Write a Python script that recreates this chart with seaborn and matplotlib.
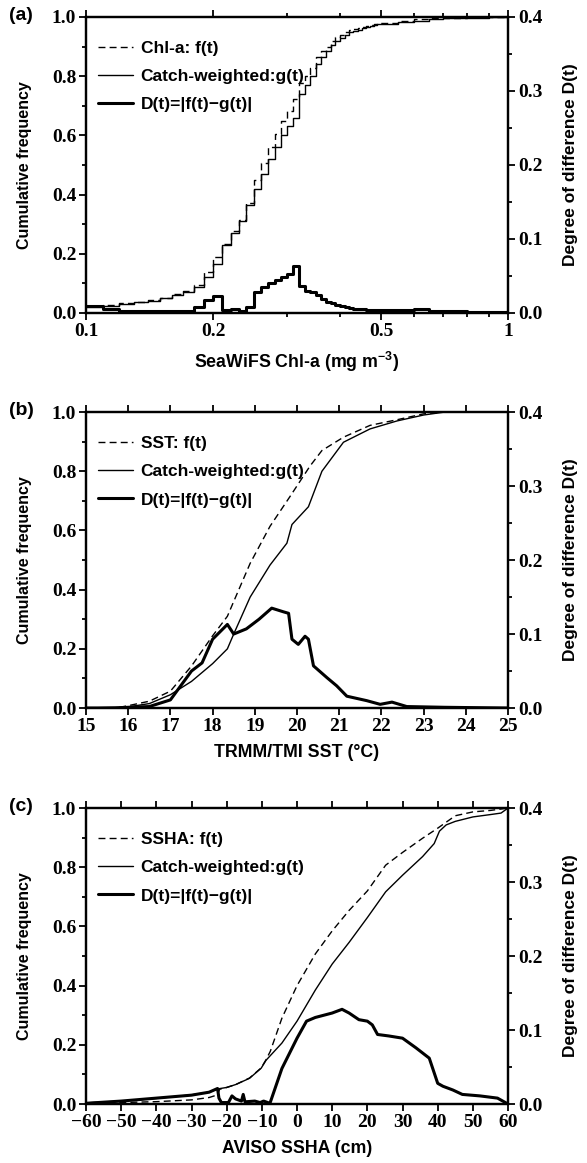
import matplotlib
matplotlib.use('Agg')
import matplotlib.pyplot as plt
import seaborn as sns
from matplotlib.ticker import NullFormatter, MultipleLocator

# ---- panel (a): SeaWiFS Chl-a (step cumulative curves) ----
chl_x = [0.10, 0.11, 0.12, 0.13, 0.14, 0.15, 0.16, 0.17, 0.18, 0.19,
         0.20, 0.21, 0.22, 0.23, 0.24, 0.25, 0.26, 0.27, 0.28, 0.29,
         0.30, 0.31, 0.32, 0.33, 0.34, 0.35, 0.36, 0.37, 0.38, 0.39,
         0.40, 0.41, 0.42, 0.43, 0.44, 0.45, 0.46, 0.47, 0.48, 0.49,
         0.50, 0.55, 0.60, 0.65, 0.70, 0.80, 0.90, 1.00]
chl_f = [0.022, 0.027, 0.032, 0.038, 0.045, 0.052, 0.063, 0.075, 0.096, 0.137,
         0.188, 0.234, 0.276, 0.313, 0.373, 0.448, 0.505, 0.560, 0.605, 0.648,
         0.682, 0.723, 0.777, 0.800, 0.829, 0.864, 0.884, 0.900, 0.918, 0.931,
         0.940, 0.948, 0.955, 0.958, 0.962, 0.967, 0.970, 0.973, 0.976, 0.979,
         0.981, 0.987, 0.993, 0.995, 0.997, 0.999, 1.000, 1.000]
chl_g = [0.020, 0.025, 0.030, 0.036, 0.042, 0.050, 0.060, 0.072, 0.088, 0.120,
         0.165, 0.230, 0.270, 0.310, 0.365, 0.420, 0.470, 0.520, 0.560, 0.600,
         0.630, 0.660, 0.740, 0.770, 0.800, 0.840, 0.865, 0.885, 0.905, 0.920,
         0.930, 0.940, 0.948, 0.952, 0.957, 0.962, 0.966, 0.969, 0.972, 0.975,
         0.977, 0.983, 0.988, 0.992, 0.995, 0.998, 0.999, 1.000]
chl_d = [0.009, 0.005, 0.002, 0.002, 0.003, 0.002, 0.003, 0.003, 0.008, 0.017,
         0.023, 0.004, 0.006, 0.003, 0.008, 0.028, 0.035, 0.040, 0.045, 0.048,
         0.052, 0.063, 0.037, 0.030, 0.029, 0.024, 0.019, 0.015, 0.013, 0.011,
         0.010, 0.008, 0.007, 0.006, 0.005, 0.005, 0.004, 0.004, 0.004, 0.004,
         0.004, 0.004, 0.005, 0.003, 0.002, 0.001, 0.001, 0.000]

# ---- panel (b): TRMM/TMI SST ----
sst_fx = [15.0, 15.7, 16.0, 16.5, 17.0, 17.5, 18.0, 18.35, 18.5, 18.89, 19.36,
          19.84, 20.31, 20.59, 21.1, 21.73, 22.37, 23.0, 23.5, 25.0]
sst_f = [0.0, 0.0, 0.008, 0.023, 0.057, 0.142, 0.244, 0.31, 0.36, 0.489, 0.614,
         0.716, 0.818, 0.87, 0.915, 0.955, 0.974, 0.994, 1.0, 1.0]
sst_gx = [15.0, 16.0, 16.5, 17.0, 17.5, 18.0, 18.35, 18.5, 18.89, 19.36, 19.76,
          19.88, 20.27, 20.59, 21.1, 21.73, 22.37, 23.0, 23.5, 25.0]
sst_g = [0.0, 0.004, 0.015, 0.045, 0.09, 0.15, 0.20, 0.25, 0.375, 0.483, 0.557,
         0.62, 0.68, 0.80, 0.898, 0.943, 0.97, 0.99, 1.0, 1.0]
sst_dx = [15.0, 15.7, 16.0, 16.5, 17.0, 17.5, 17.75, 18.0, 18.35, 18.5, 18.8,
          19.1, 19.4, 19.68, 19.8, 19.88, 20.03, 20.19, 20.27, 20.39, 20.71,
          20.94, 21.18, 21.65, 21.97, 22.25, 22.6, 23.5, 25.0]
sst_d = [0.0, 0.0, 0.001, 0.002, 0.011, 0.05, 0.061, 0.093, 0.113, 0.10, 0.107,
         0.12, 0.135, 0.13, 0.128, 0.093, 0.086, 0.097, 0.093, 0.057, 0.041,
         0.03, 0.016, 0.010, 0.005, 0.008, 0.002, 0.001, 0.0]

# ---- panel (c): AVISO SSHA ----
ssha_fx = [-60, -50, -40, -30, -25, -22.6, -22, -20, -17.4, -13.5, -10.2, -8.8,
           -7.6, -4.3, 0, 5.2, 10, 14.8, 20, 25.2, 30, 35.7, 40, 45, 50, 55, 60]
ssha_f = [0.002, 0.005, 0.008, 0.014, 0.022, 0.031, 0.050, 0.056, 0.066, 0.088,
          0.122, 0.15, 0.178, 0.29, 0.40, 0.507, 0.585, 0.654, 0.72, 0.807,
          0.85, 0.898, 0.932, 0.974, 0.987, 0.992, 1.0]
ssha_gx = [-60, -50, -40, -30, -25, -22.6, -20, -17.4, -13.5, -10.2, -8.8, -4.3,
           0, 5.2, 10, 14.8, 20, 25.2, 30, 35.7, 39, 40.5, 42.4, 45, 50, 55, 58, 60]
ssha_g = [0.004, 0.010, 0.019, 0.031, 0.040, 0.051, 0.056, 0.066, 0.087, 0.121,
          0.148, 0.206, 0.28, 0.385, 0.473, 0.546, 0.63, 0.717, 0.773, 0.836,
          0.88, 0.922, 0.943, 0.955, 0.97, 0.978, 0.983, 1.0]
ssha_dx = [-60, -50, -40, -30, -25, -22.6, -22.2, -21.5, -19.5, -18.5, -17.5,
           -15.8, -15.3, -14.8, -12, -10.5, -9.5, -7.7, -4.3, 0, 2.7, 5.2, 10,
           12.8, 14.8, 17.6, 20, 21.4, 22.9, 26.1, 30, 33.8, 37.6, 40, 41.5,
           44.3, 47, 52, 57, 60]
ssha_d = [0.001, 0.004, 0.008, 0.012, 0.016, 0.021, 0.008, 0.002, 0.002, 0.011,
          0.007, 0.004, 0.013, 0.003, 0.004, 0.002, 0.004, 0.001, 0.048, 0.089,
          0.112, 0.117, 0.123, 0.128, 0.123, 0.114, 0.112, 0.107, 0.094, 0.092,
          0.089, 0.076, 0.062, 0.028, 0.024, 0.019, 0.013, 0.011, 0.008, 0.0]

sns.set_style('ticks', rc={'axes.edgecolor': 'black', 'xtick.color': 'black',
                           'ytick.color': 'black', 'text.color': 'black',
                           'axes.labelcolor': 'black'})
plt.rcParams['font.family'] = ['Liberation Sans', 'DejaVu Sans']
plt.rcParams['font.weight'] = 'bold'
plt.rcParams['axes.labelweight'] = 'bold'
plt.rcParams['mathtext.fontset'] = 'custom'
plt.rcParams['mathtext.rm'] = 'Liberation Sans:bold'
plt.rcParams['mathtext.bf'] = 'Liberation Sans:bold'
plt.rcParams['mathtext.default'] = 'rm'

fig = plt.figure(figsize=(5.87, 11.63), dpi=100)
L, W, H = 0.1465, 0.719, 0.2545
bottoms = [0.7309, 0.3912, 0.0507]

TICK_FONT = dict(family='Liberation Serif', weight='bold', size=14)


def panel(bottom, fx, fy, gx, gy, dx, dy, name, xlabel, tag, steps=False):
    ax = fig.add_axes([L, bottom, W, H])
    ax2 = ax.twinx()
    ds = 'steps-post' if steps else 'default'
    sns.lineplot(x=fx, y=fy, ax=ax, color='black', lw=1.0, linestyle=(0, (5, 3)),
                 drawstyle=ds, estimator=None, sort=False)
    sns.lineplot(x=gx, y=gy, ax=ax, color='black', lw=1.0,
                 drawstyle=ds, estimator=None, sort=False)
    sns.lineplot(x=dx, y=dy, ax=ax2, color='black', lw=2.2,
                 drawstyle=ds, estimator=None, sort=False)
    ax.set_ylim(0, 1)
    ax2.set_ylim(0, 0.4)
    ax.yaxis.set_major_locator(MultipleLocator(0.2))
    ax.yaxis.set_minor_locator(MultipleLocator(0.1))
    ax2.yaxis.set_major_locator(MultipleLocator(0.1))
    ax2.yaxis.set_minor_locator(MultipleLocator(0.05))
    ax.set_yticklabels([f'{v:.1f}' for v in ax.get_yticks()])
    ax2.set_yticklabels([f'{v:.1f}' for v in ax2.get_yticks()])
    for a in (ax, ax2):
        for s in a.spines.values():
            s.set_linewidth(1.6)
        a.tick_params(which='major', direction='out', length=5, width=1.3, pad=2)
        a.tick_params(which='minor', direction='out', length=3, width=1.3)
    ax.tick_params(which='both', top=True, right=False)
    ax2.tick_params(which='both', top=False, right=True)
    ax.set_ylabel('Cumulative frequency', fontsize=11.5, labelpad=14)
    ax2.set_ylabel('Degree of difference D(t)', fontsize=12.5, labelpad=15)
    ax.set_xlabel(xlabel, fontsize=12.8, labelpad=7)
    lines = ax.get_lines()[:2] + ax2.get_lines()[:1]
    labels = [name + ': f(t)', 'Catch-weighted:g(t)', 'D(t)=|f(t)\u2212g(t)|']
    ax2.legend(lines, labels, loc='upper left', bbox_to_anchor=(0.0, 0.96),
               frameon=False, fontsize=12.5, handlelength=2.0, handletextpad=0.45,
               labelspacing=0.75, borderaxespad=0.3)
    fig.text(0.016, bottom + H + 0.001, tag, fontsize=14, fontweight='bold', va='center')
    return ax, ax2


ax, ax2 = panel(bottoms[0], chl_x, chl_f, chl_x, chl_g, chl_x, chl_d, 'Chl-a',
                'SeaWiFS Chl-a (mg m$^{-3}$)', '(a)', steps=True)
ax.set_xscale('log')
ax.set_xlim(0.1, 1)
ax.set_xticks([0.1, 0.2, 0.5, 1])
ax.set_xticklabels(['0.1', '0.2', '0.5', '1'])
ax.set_xticks([0.3, 0.4, 0.6, 0.7, 0.8, 0.9], minor=True)
ax.xaxis.set_minor_formatter(NullFormatter())
axes_list = [(ax, ax2)]

ax, ax2 = panel(bottoms[1], sst_fx, sst_f, sst_gx, sst_g, sst_dx, sst_d, 'SST',
                'TRMM/TMI SST (\u00b0C)', '(b)')
ax.set_xlim(15, 25)
ax.set_xticks(range(15, 26))
axes_list.append((ax, ax2))

ax, ax2 = panel(bottoms[2], ssha_fx, ssha_f, ssha_gx, ssha_g, ssha_dx, ssha_d, 'SSHA',
                'AVISO SSHA (cm)', '(c)')
ax.set_xlim(-60, 60)
ax.set_xticks(range(-60, 61, 10))
ax.set_xticklabels([str(v).replace('-', '\u2212') for v in range(-60, 61, 10)])
axes_list.append((ax, ax2))

for ax, ax2 in axes_list:
    for lab in ax.get_xticklabels() + ax.get_yticklabels() + ax2.get_yticklabels():
        lab.set_fontproperties(TICK_FONT)

fig.savefig('out.png', dpi=100)
